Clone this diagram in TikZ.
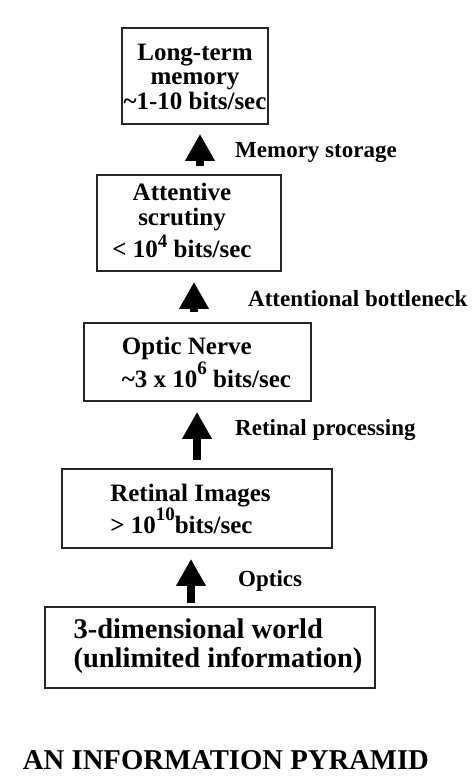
\documentclass[tikz,border=0pt]{standalone}
\usepackage{fontspec}
\setmainfont{Liberation Serif}
\usetikzlibrary{arrows.meta}

\newcommand{\boxlines}[4]{\hspace*{#1}\raisebox{#2}[\height][\depth]{\begin{tabular}{@{}#3@{}}#4\end{tabular}}}
\newcommand{\raised}[2]{\raisebox{#1}{\fontsize{19}{19}\selectfont #2}}

\begin{document}
\begin{tikzpicture}[x=1pt,y=-1pt,
    stage/.style={draw=black!85, line width=1.8pt, inner sep=0pt, font=\fontsize{25}{24}\selectfont\bfseries},
    flow/.style={line width=8pt, -{Triangle[width=28pt,length=27pt]}},
    flowlabel/.style={anchor=base west, inner sep=0pt, font=\fontsize{23}{24}\selectfont\bfseries}]
    \useasboundingbox (0,0) rectangle (476,782);
    % stages, top to bottom
    \node[stage, minimum width=146pt, minimum height=96pt] (ltm) at (195,76)
        {\boxlines{0pt}{-4pt}{c}{Long-term\\ memory\\ \textasciitilde1-10 bits/sec}};
    \node[stage, minimum width=184pt, minimum height=96pt] (att) at (189,223)
        {\boxlines{-14pt}{-1pt}{c}{Attentive\\ scrutiny\\[2pt] < 10\raised{10pt}{4} bits/sec}};
    \node[stage, minimum width=227pt, minimum height=78pt] (optic) at (197.5,362)
        {\boxlines{18pt}{-4pt}{l}{Optic Nerve\\ \textasciitilde3 x 10\raised{13pt}{6} bits/sec}};
    \node[stage, minimum width=270pt, minimum height=79pt] (retina) at (197,508.5)
        {\boxlines{-13pt}{-4pt}{l}{Retinal Images\\ > 10\raised{13pt}{10}bits/sec}};
    \node[stage, minimum width=330pt, minimum height=81pt, font=\fontsize{28.5}{28}\selectfont\bfseries] (world) at (210,647.5)
        {\boxlines{16pt}{0pt}{l}{3-dimensional world\\ (unlimited information)}};
    % arrows between stages
    \draw[flow, shorten <=8pt, shorten >=9pt] ([xshift=11pt]att.north) -- ([xshift=5pt]ltm.south);
    \draw[flow, shorten <=10pt, shorten >=10pt] ([xshift=-3.5pt]optic.north) -- ([xshift=5pt]att.south);
    \draw[flow, shorten <=8pt, shorten >=10pt] (retina.north) -- ([xshift=-0.5pt]optic.south);
    \draw[flow, shorten <=3pt, shorten >=10pt] ([xshift=-19pt]world.north) -- ([xshift=-6pt]retina.south);
    % labels
    \node[flowlabel] (memlabel) at (235,157) {Memory storage};
    \node[flowlabel] (attlabel) at (248,306) {Attentional bottleneck};
    \node[flowlabel] (proclabel) at (235,435) {Retinal processing};
    \node[flowlabel] (opticslabel) at (238,586) {Optics};
    \node[anchor=base, inner sep=0pt, font=\fontsize{28.7}{30}\selectfont\bfseries] (title) at (226,769) {AN INFORMATION PYRAMID};
\end{tikzpicture}
\end{document}
